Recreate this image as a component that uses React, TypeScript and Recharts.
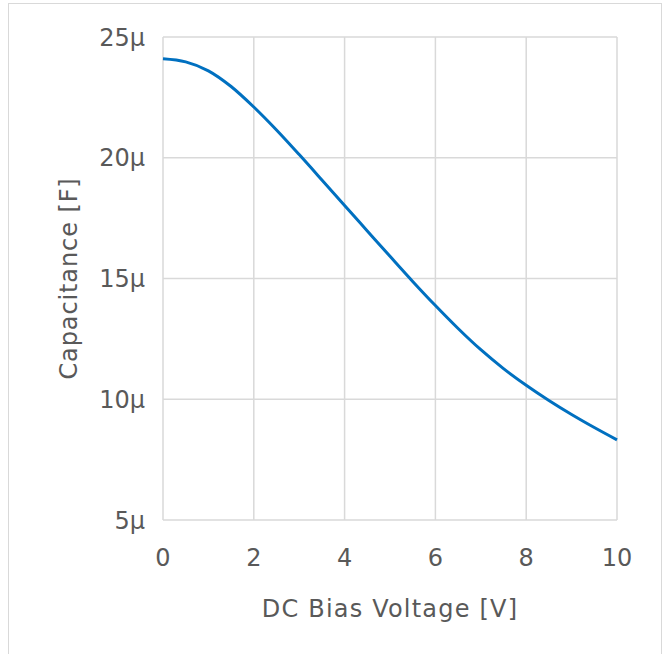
import React from "react";
import {
  LineChart,
  Line,
  XAxis,
  YAxis,
  CartesianGrid,
} from "recharts";

const voltages = [0, 0.5, 1, 1.5, 2, 2.5, 3, 3.5, 4, 4.5, 5, 5.5, 6, 6.5, 7, 7.5, 8, 8.5, 9, 9.5, 10];
const capacitance = [
  24.1, 23.97, 23.6, 22.95, 22.1, 21.15, 20.13, 19.08, 18.02, 16.97, 15.92,
  14.88, 13.88, 12.93, 12.05, 11.27, 10.58, 9.95, 9.37, 8.83, 8.32,
];
const xTicks = [0, 2, 4, 6, 8, 10];
const yTicks = [5, 10, 15, 20, 25];

const data = voltages.map((v, i) => ({ v, c: capacitance[i] }));

const FONT = "'DejaVu Sans', Verdana, sans-serif";
const TEXT = "#595959";
const GRID = "#d9d9d9";

export default function App() {
  return (
    <div style={{ position: "absolute", left: 0, top: 0, width: 669, height: 654, background: "#fff", overflow: "hidden", fontFamily: FONT }}>
      <div style={{ position: "absolute", left: 0, top: 0 }}>
        <LineChart width={669} height={654} data={data} margin={{ top: 37, right: 52, bottom: 0, left: 0 }}>
          <CartesianGrid stroke={GRID} strokeWidth={1.5} />
          <XAxis
            dataKey="v"
            type="number"
            domain={[0, 10]}
            ticks={xTicks}
            axisLine={false}
            tickLine={false}
            tickMargin={23}
            height={134}
            tick={{ fontSize: 24, fill: TEXT, fontFamily: FONT }}
            label={{ value: "DC Bias Voltage [V]", position: "insideBottom", offset: 37, fill: TEXT, fontSize: 24, fontFamily: FONT, letterSpacing: 1.2 }}
          />
          <YAxis
            type="number"
            domain={[5, 25]}
            ticks={yTicks}
            width={163}
            axisLine={false}
            tickLine={false}
            tickMargin={12}
            tickFormatter={(v: number) => `${v}μ`}
            tick={{ fontSize: 24, fill: TEXT, fontFamily: FONT }}
            label={{ value: "Capacitance [F]", angle: -90, position: "insideLeft", offset: 68, fill: TEXT, fontSize: 24, fontFamily: FONT, letterSpacing: 0.9, style: { textAnchor: "middle" } }}
          />
          <Line
            dataKey="c"
            type="monotone"
            stroke="#0070c0"
            strokeWidth={3}
            dot={false}
            isAnimationActive={false}
          />
        </LineChart>
      </div>
      <div
        style={{
          position: "absolute",
          left: 8,
          top: 3,
          width: 652,
          height: 700,
          border: `1.5px solid ${GRID}`,
          pointerEvents: "none",
        }}
      />
    </div>
  );
}
